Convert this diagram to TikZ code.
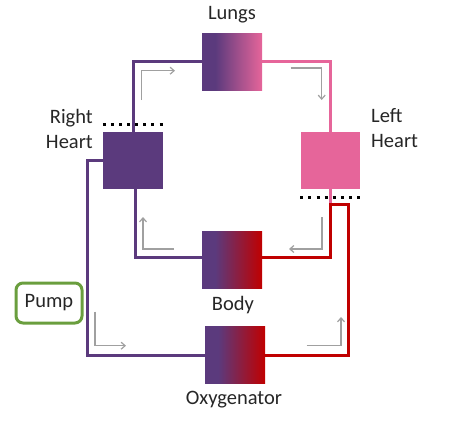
\documentclass[tikz,border=0pt]{standalone}
\usepackage{fontspec}
\setmainfont{Carlito}
\usetikzlibrary{arrows.meta}
\definecolor{purp}{HTML}{5B3A7D}
\definecolor{pinkc}{HTML}{E6659A}
\definecolor{redc}{HTML}{C00000}
\definecolor{grn}{HTML}{6A9E3E}
\definecolor{arr}{HTML}{A0A0A0}
\definecolor{txt}{HTML}{262626}
\pgfdeclarehorizontalshading{lungshade}{100bp}{color(0bp)=(purp); color(36bp)=(purp); color(75bp)=(pinkc); color(100bp)=(pinkc)}
\pgfdeclarehorizontalshading{bodyshade}{100bp}{color(0bp)=(purp); color(36bp)=(purp); color(75bp)=(redc); color(100bp)=(redc)}
\begin{document}
\begin{tikzpicture}[x=1pt,y=-1pt,
  organ/.style={rectangle, inner sep=0pt, minimum width=60pt, minimum height=57pt},
  lbl/.style={font=\fontsize{20.5}{25}\selectfont, text=txt, inner sep=0pt},
  pline/.style={draw=purp, line width=3pt},
  kline/.style={draw=pinkc, line width=3pt},
  rline/.style={draw=redc, line width=3pt},
  dotline/.style={draw=black, line width=3pt, dash pattern=on 3pt off 5.1pt},
  flow/.style={draw=arr, line width=1.2pt, -{Straight Barb[length=4pt,width=7pt]}},
  pumpbox/.style={draw=grn, line width=3pt, rounded corners=7pt, minimum width=66pt, minimum height=40pt, inner sep=0pt, font=\fontsize{20.5}{25}\selectfont, text=txt}
]
\useasboundingbox (0,0) rectangle (454,423);

% organs
\node[organ, shading=lungshade] (lungs) at (232,61.5) {};
\node[organ, fill=purp] (rh) at (133,160.5) {};
\node[organ, fill=pinkc, minimum width=59pt] (lh) at (330,160.5) {};
\node[organ, shading=bodyshade] (body) at (232,260.4) {};
\node[organ, shading=bodyshade] (oxy) at (235,355.4) {};

% junction coordinates
\coordinate (j1) at (330,204);
\coordinate (j2) at (348,204);

% connectors
\draw[pline] (rh.north) |- (lungs.west);
\draw[pline] ([xshift=2pt]rh.south) |- ([yshift=3pt]body.west);
\draw[pline] (rh.west) -- ++(-15,0) |- (oxy.west);
\draw[kline] (lungs.east) -| (lh.north);
\draw[kline] (lh.south) -- (j1);
\draw[rline] ([yshift=3pt]body.east) -| (j1) -- (j2) |- (oxy.east);

% dotted marks
\draw[dotline] ([yshift=7.5pt]rh.north west) -- ([yshift=7.5pt]rh.north east);
\draw[dotline] ([yshift=-8pt]lh.south west) -- ([yshift=-8pt]lh.south east);

% flow arrows
\draw[flow] (141.7,100) -- (141.7,70.7) -- (175,70.7);
\draw[flow] (290.7,68) -- (321.7,68) -- (321.7,100);
\draw[flow] (174,249) -- (143,249) -- (143,217);
\draw[flow] (322,217) -- (322,249) -- (289,249);
\draw[flow] (95,311.7) -- (95,345.7) -- (126,345.7);
\draw[flow] (306.7,345.7) -- (341,345.7) -- (341,317);

% labels
\node[lbl] (lungslbl) at (232,15) {Lungs};
\node[lbl, align=right, anchor=east] (rhlbl) at (93,128.5) {Right\\Heart};
\node[lbl, align=left, anchor=west] (lhlbl) at (371,128.5) {Left\\Heart};
\node[lbl] (bodylbl) at (233,305) {Body};
\node[lbl] (oxylbl) at (234,400) {Oxygenator};
\node[pumpbox] (pump) at (49,303) {Pump};
\end{tikzpicture}
\end{document}
